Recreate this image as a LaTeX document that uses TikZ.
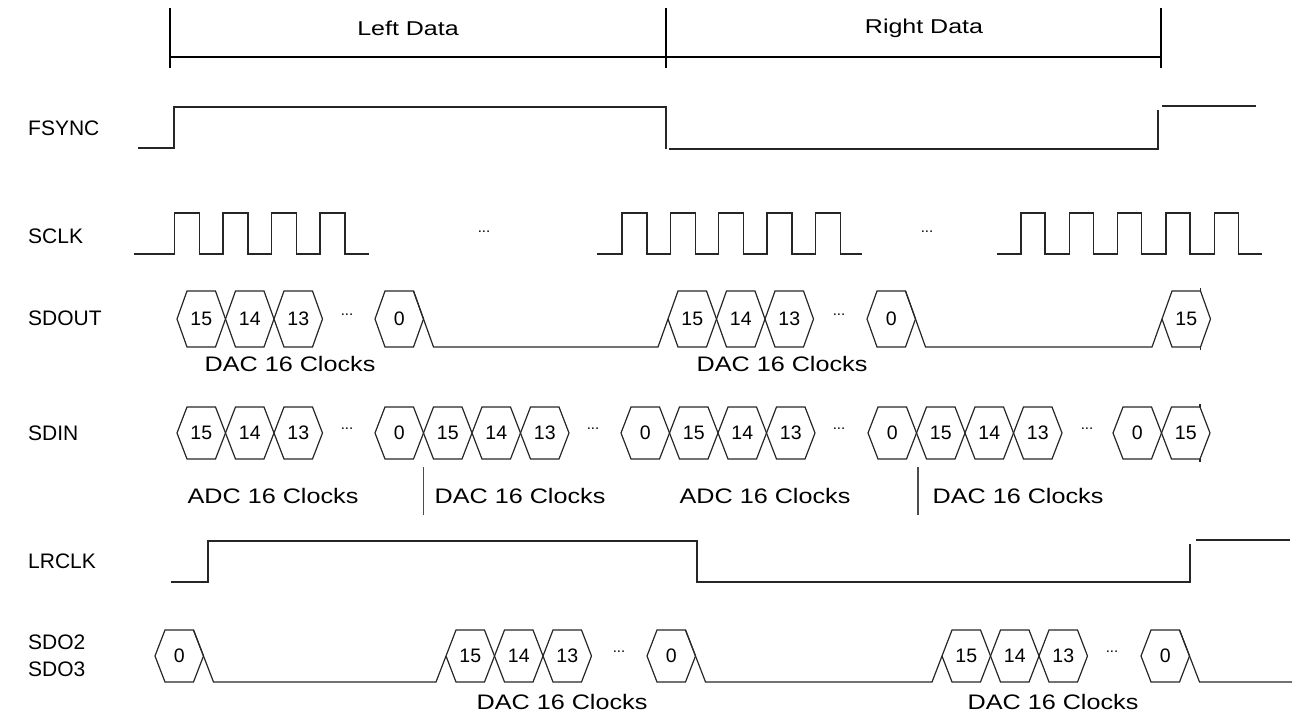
\documentclass[tikz,border=0pt]{standalone}
\usepackage{fontspec}
\setmainfont{Liberation Sans}
\begin{document}
\begin{tikzpicture}[x=1pt,y=-1pt,
  sig/.style={line width=1.2pt, black!85, line join=miter},
  lbl/.style={anchor=west, inner sep=0pt, font=\fontsize{21}{21}\selectfont},
  hx/.style={inner sep=0pt, font=\fontsize{19.5}{19.5}\selectfont},
  capt/.style={inner sep=0pt, xscale=1.2, font=\fontsize{21}{21}\selectfont},
  ttl/.style={inner sep=0pt, xscale=1.25, font=\fontsize{20}{20}\selectfont},
  dots/.style={inner sep=0pt, font=\fontsize{15}{15}\selectfont}]
\useasboundingbox (0,0) rectangle (1297,714);
\def\hh{27}
\newcommand{\hexa}[4]{%
  \draw[sig] (#1,#2) -- ++(10,-\hh) -- ++(28.5,0) -- ++(10,\hh) -- ++(-10,\hh) -- ++(-28.5,0) -- cycle;
  \node[hx] (#4) at (#1+24.25,#2) {#3};}
\newcommand{\tri}[5]{% L ymid name1 name2 name3
  \hexa{#1}{#2}{15}{#3}\hexa{#1+48.5}{#2}{14}{#4}\hexa{#1+97}{#2}{13}{#5}}
\newcommand{\ticks}[2]{% right-top corner x, ymid
  \draw[sig] (#1,#2-\hh-3) -- (#1,#2-\hh);
  \draw[sig] (#1,#2+\hh) -- (#1,#2+\hh+3);}

% ---------- top bracket ----------
\coordinate (t1) at (170,8);  \coordinate (b1) at (170,68);
\coordinate (t2) at (666,8);  \coordinate (b2) at (666,68);
\coordinate (t3) at (1161,8); \coordinate (b3) at (1161,68);
\draw[line width=1.2pt] (t1) -- (b1);
\draw[line width=1.2pt] (t2) -- (b2);
\draw[line width=1.2pt] (t3) -- (b3);
\coordinate (h1) at (170,57); \coordinate (h3) at (1161,57);
\draw[line width=1.2pt] (h1) -- (h3);
\node[ttl] (left) at (408,28) {Left Data};
\node[ttl] (right) at (924,28) {Right Data};

% ---------- labels ----------
\node[lbl] (lfs) at (28,128) {FSYNC};
\node[lbl] (lsc) at (28,236) {SCLK};
\node[lbl] (lso) at (28,318) {SDOUT};
\node[lbl] (lsi) at (28,433) {SDIN};
\node[lbl] (llr) at (28,561) {LRCLK};
\node[lbl] (ls2) at (28,642) {SDO2};
\node[lbl] (ls3) at (28,669) {SDO3};

% ---------- FSYNC ----------
\draw[sig] (138,148) -- (174,148) -- (174,107) -- (666,107) -- (666,149);
\draw[sig] (669,149) -- (1158,149) -- (1158,110);
\draw[sig] (1162,106) -- (1256,106);

% ---------- SCLK ----------
\draw[sig] (134,254) -- (174.5,254)
  \foreach \k in {0,...,3} { -- (174.5+48.5*\k,254) -- (174.5+48.5*\k,213) -- (199.5+48.5*\k,213) -- (199.5+48.5*\k,254) } -- (369,254);
\draw[sig] (597,254) -- (622,254)
  \foreach \k in {0,...,4} { -- (622+48.3*\k,254) -- (622+48.3*\k,213) -- (647+48.3*\k,213) -- (647+48.3*\k,254) } -- (862,254);
\draw[sig] (997,254) -- (1021,254)
  \foreach \k in {0,...,4} { -- (1021+48.3*\k,254) -- (1021+48.3*\k,213) -- (1045+48.3*\k,213) -- (1045+48.3*\k,254) } -- (1262,254);
\node[dots] (d1) at (484,232) {...};
\node[dots] (d2) at (927,232) {...};

% ---------- SDOUT ----------
\def\hh{28}
\tri{177}{319}{o15a}{o14a}{o13a}
\node[dots] (od1) at (347,315) {...};
\hexa{375}{319}{0}{o0a}
\draw[sig] (413.5,291) -- (433.5,347) -- (658,347) -- (668,319);
\tri{668}{319}{o15b}{o14b}{o13b}
\node[dots] (od2) at (839,315) {...};
\hexa{867}{319}{0}{o0b}
\draw[sig] (905.5,291) -- (925.5,347) -- (1152,347) -- (1162,319);
\hexa{1162}{319}{15}{o15c}
\ticks{1200.5}{319}
\node[capt] (dac1) at (290,364) {DAC 16 Clocks};
\node[capt] (dac2) at (782,364) {DAC 16 Clocks};

% ---------- SDIN ----------
\def\hh{26}
\tri{177}{433}{i15a}{i14a}{i13a}
\node[dots] (id1) at (347,429) {...};
\hexa{375}{433}{0}{i0a}
\tri{423.5}{433}{i15b}{i14b}{i13b}
\node[dots] (id2) at (593,429) {...};
\hexa{621}{433}{0}{i0b}
\tri{669.5}{433}{i15c}{i14c}{i13c}
\node[dots] (id3) at (839,429) {...};
\hexa{868}{433}{0}{i0c}
\tri{916.5}{433}{i15d}{i14d}{i13d}
\node[dots] (id4) at (1087,429) {...};
\hexa{1113}{433}{0}{i0d}
\hexa{1161.5}{433}{15}{i15e}
\ticks{1200}{433}
\coordinate (s1t) at (423.5,467); \coordinate (s1b) at (423.5,515);
\coordinate (s2t) at (918,467); \coordinate (s2b) at (918,515);
\draw[line width=1.2pt, black!70] (s1t) -- (s1b);
\draw[line width=1.2pt, black!70] (s2t) -- (s2b);
\node[capt] (adc1) at (273,496) {ADC 16 Clocks};
\node[capt] (dac3) at (520,496) {DAC 16 Clocks};
\node[capt] (adc2) at (765,496) {ADC 16 Clocks};
\node[capt] (dac4) at (1018,496) {DAC 16 Clocks};

% ---------- LRCLK ----------
\draw[sig] (171,582) -- (208,582) -- (208,541) -- (697,541) -- (697,582) -- (1190,582) -- (1190,544);
\draw[sig] (1196,540) -- (1290,540);

% ---------- SDO2/SDO3 ----------
\hexa{155}{656}{0}{s0a}
\draw[sig] (193.5,630) -- (213.5,682) -- (436,682) -- (446,656);
\tri{446}{656}{s15a}{s14a}{s13a}
\node[dots] (sd1) at (619,652) {...};
\hexa{647}{656}{0}{s0b}
\draw[sig] (685.5,630) -- (705.5,682) -- (932,682) -- (942,656);
\tri{942}{656}{s15b}{s14b}{s13b}
\node[dots] (sd2) at (1112,652) {...};
\hexa{1141}{656}{0}{s0c}
\draw[sig] (1179.5,630) -- (1199.5,682) -- (1292,682);
\node[capt] (dac5) at (562,702) {DAC 16 Clocks};
\node[capt] (dac6) at (1053,702) {DAC 16 Clocks};
\end{tikzpicture}
\end{document}
